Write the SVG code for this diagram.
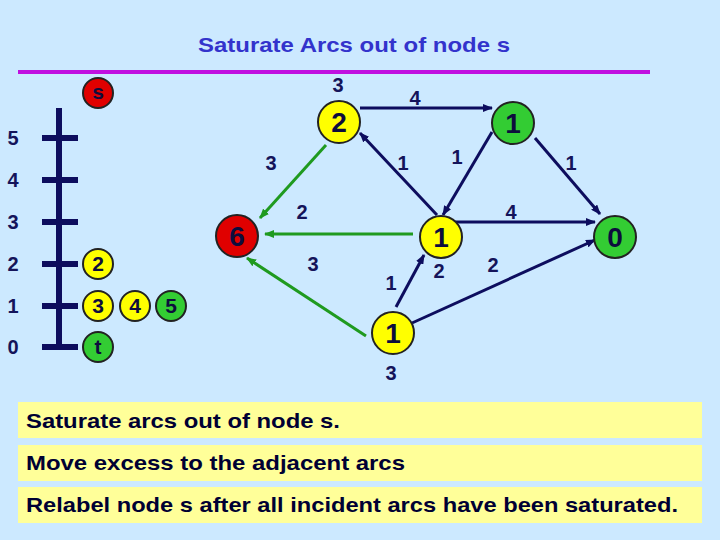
<svg xmlns="http://www.w3.org/2000/svg" width="720" height="540" viewBox="0 0 720 540">
<defs>
<marker id="an" viewBox="0 0 10 8" refX="9" refY="4" markerWidth="10" markerHeight="8" markerUnits="userSpaceOnUse" orient="auto"><path d="M0,0 L10,4 L0,8 Z" fill="#0d0d5e"/></marker>
<marker id="ag" viewBox="0 0 10 8" refX="9" refY="4" markerWidth="10" markerHeight="8" markerUnits="userSpaceOnUse" orient="auto"><path d="M0,0 L10,4 L0,8 Z" fill="#1f9a1f"/></marker>
<style>
.t{font-family:"Liberation Sans",Arial,sans-serif;}
.lab{font-family:"Liberation Sans",Arial,sans-serif;font-weight:bold;font-size:20px;fill:#14145a;text-anchor:middle;}
.num{font-family:"Liberation Sans",Arial,sans-serif;font-weight:bold;font-size:28px;fill:#0d0d3d;text-anchor:middle;}
.sm{font-family:"Liberation Sans",Arial,sans-serif;font-weight:bold;font-size:21px;fill:#0d0d3d;text-anchor:middle;}
.ax{font-family:"Liberation Sans",Arial,sans-serif;font-weight:bold;font-size:20px;fill:#14145a;text-anchor:middle;}
.y{fill:#ffff00;stroke:#222;stroke-width:2;}
.g{fill:#33cc33;stroke:#222;stroke-width:2;}
.r{fill:#e00000;stroke:#222;stroke-width:2;}
.en{stroke:#0d0d5e;stroke-width:3;fill:none;marker-end:url(#an);}
.eg{stroke:#1f9a1f;stroke-width:3;fill:none;marker-end:url(#ag);}
.box{fill:#ffff99;}
.bt{font-family:"Liberation Sans",Arial,sans-serif;font-size:21px;font-weight:bold;fill:#000033;}
</style>
</defs>
<rect x="0" y="0" width="720" height="540" fill="#cce9ff"/>
<text class="t" x="354" y="52" text-anchor="middle" font-size="21" font-weight="bold" fill="#3333cc" textLength="312" lengthAdjust="spacingAndGlyphs">Saturate Arcs out of node s</text>
<line x1="18" y1="72" x2="650" y2="72" stroke="#c010e0" stroke-width="4"/>

<g id="axis">
<line x1="59" y1="108" x2="59" y2="350" stroke="#0d0d5e" stroke-width="6"/>
<g stroke="#0d0d5e" stroke-width="6">
<line x1="42" y1="138" x2="78" y2="138"/>
<line x1="42" y1="180" x2="78" y2="180"/>
<line x1="42" y1="222" x2="78" y2="222"/>
<line x1="42" y1="264" x2="78" y2="264"/>
<line x1="42" y1="306" x2="78" y2="306"/>
<line x1="42" y1="347" x2="78" y2="347"/>
</g>
<text class="ax" x="13" y="145">5</text>
<text class="ax" x="13" y="187">4</text>
<text class="ax" x="13" y="229">3</text>
<text class="ax" x="13" y="271">2</text>
<text class="ax" x="13" y="313">1</text>
<text class="ax" x="13" y="354">0</text>
</g>

<g id="list-s"><circle class="r" cx="98" cy="93" r="15"/><text class="sm" x="98" y="99">s</text></g>
<g id="list-2"><circle class="y" cx="98" cy="264" r="15"/><text class="sm" x="98" y="271">2</text></g>
<g id="list-3"><circle class="y" cx="98" cy="306" r="15"/><text class="sm" x="98" y="313">3</text></g>
<g id="list-4"><circle class="y" cx="135" cy="306" r="15"/><text class="sm" x="135" y="313">4</text></g>
<g id="list-5"><circle class="g" cx="171" cy="306" r="15"/><text class="sm" x="171" y="313">5</text></g>
<g id="list-t"><circle class="g" cx="98" cy="347" r="15"/><text class="sm" x="98" y="354">t</text></g>

<g id="connectors">
<line class="en" x1="360" y1="108" x2="492" y2="108"/>
<line class="en" x1="492" y1="132" x2="443" y2="215"/>
<line class="en" x1="535" y1="138" x2="600" y2="214"/>
<line class="en" x1="437" y1="215" x2="360" y2="133"/>
<line class="en" x1="455" y1="222" x2="595" y2="222"/>
<line class="en" x1="396" y1="307" x2="424" y2="255"/>
<line class="en" x1="412" y1="323" x2="595" y2="240"/>
<line class="eg" x1="326" y1="145" x2="260" y2="218"/>
<line class="eg" x1="413" y1="234" x2="265" y2="234"/>
<line class="eg" x1="366" y1="336" x2="247" y2="258" stroke-width="2.5"/>
</g>

<g id="edge-labels">
<text class="lab" x="415" y="105">4</text>
<text class="lab" x="457" y="164">1</text>
<text class="lab" x="571" y="170">1</text>
<text class="lab" x="403" y="170">1</text>
<text class="lab" x="511" y="219">4</text>
<text class="lab" x="271" y="170">3</text>
<text class="lab" x="302" y="219">2</text>
<text class="lab" x="313" y="271">3</text>
<text class="lab" x="391" y="290">1</text>
<text class="lab" x="493" y="272">2</text>
<text class="lab" x="338" y="92">3</text>
<text class="lab" x="439" y="278">2</text>
<text class="lab" x="391" y="380">3</text>
</g>

<g id="node-2"><circle class="y" cx="339" cy="122" r="21"/><text class="num" x="339" y="132">2</text></g>
<g id="node-1a"><circle class="g" cx="513" cy="123" r="21"/><text class="num" x="513" y="133">1</text></g>
<g id="node-1b"><circle class="y" cx="441" cy="237" r="21"/><text class="num" x="441" y="247">1</text></g>
<g id="node-0"><circle class="g" cx="615" cy="237" r="21"/><text class="num" x="615" y="247">0</text></g>
<g id="node-1c"><circle class="y" cx="393" cy="333" r="21"/><text class="num" x="393" y="343">1</text></g>
<g id="node-6"><circle class="r" cx="237" cy="236" r="21"/><text class="num" x="237" y="246">6</text></g>

<g id="notes">
<rect class="box" x="18" y="402" width="684" height="36"/>
<rect class="box" x="18" y="445" width="684" height="36"/>
<rect class="box" x="18" y="487" width="684" height="36"/>
<text class="bt" x="26" y="428" textLength="314" lengthAdjust="spacingAndGlyphs">Saturate arcs out of node s.</text>
<text class="bt" x="26" y="470" textLength="379" lengthAdjust="spacingAndGlyphs">Move excess to the adjacent arcs</text>
<text class="bt" x="26" y="512" textLength="652" lengthAdjust="spacingAndGlyphs">Relabel node s after all incident arcs have been saturated.</text>
</g>
</svg>
